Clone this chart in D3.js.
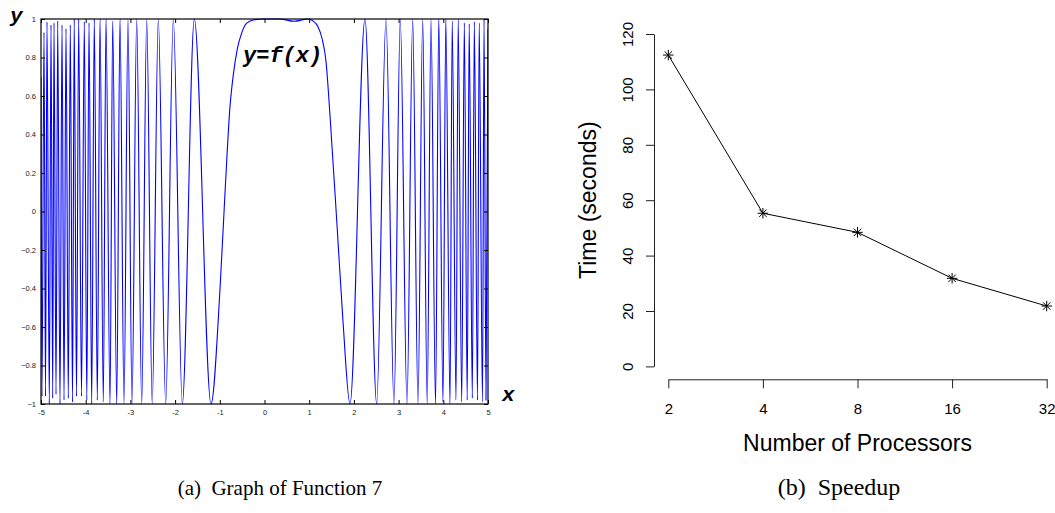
<!DOCTYPE html>
<html>
<head>
<meta charset="utf-8">
<script src="https://cdn.jsdelivr.net/npm/d3@7"></script>
<style>
  html, body { margin: 0; padding: 0; background: #fff; }
  svg { display: block; }
</style>
</head>
<body>
<svg id="chart" width="1055" height="513"></svg>
<script>
const curveX = [
  -5.000, -4.978, -4.933, -4.899, -4.866, -4.814, -4.776, -4.738, -4.709, -4.664,
  -4.626, -4.575, -4.530, -4.485, -4.441, -4.389, -4.345, -4.295, -4.257, -4.206,
  -4.157, -4.094, -4.031, -3.975, -3.926, -3.866, -3.808, -3.740, -3.680, -3.606,
  -3.546, -3.456, -3.396, -3.306, -3.233, -3.143, -3.054, -2.964, -2.859, -2.747,
  -2.635, -2.512, -2.376, -2.210, -2.040, -1.839, -1.570, -1.197,
  -0.996, -0.884, -0.772, -0.698, -0.608, -0.510, -0.398, -0.251, -0.027,
  0.347, 0.660, 0.973, 1.085, 1.197, 1.286, 1.376, 1.465, 1.622, 1.756,
  1.913, 2.248, 2.510, 2.718, 2.897, 3.038, 3.188, 3.315, 3.434, 3.539,
  3.640, 3.725, 3.826, 3.899, 3.993, 4.056, 4.150, 4.199, 4.284, 4.333,
  4.412, 4.470, 4.535, 4.579, 4.649, 4.694, 4.765, 4.803, 4.877, 4.911,
  4.955, 5.000
];
const curveY = [
  0.70, -0.96, 0.93, -0.96, 0.985, -1.00, 0.97, -0.97, 0.98, -0.95,
  0.99, -1.00, 0.97, -0.98, 0.95, -0.97, 0.97, -0.99, 1.00, -0.96,
  1.00, -0.96, 0.985, -0.98, 0.98, -1.00, 1.00, -0.98, 1.00, -0.99,
  1.00, -1.00, 0.99, -1.00, 1.00, -1.00, 1.00, -1.00, 1.00, -1.00,
  1.00, -1.00, 1.00, -1.00, 1.00, -1.00, 1.00, -1.00,
  -0.405, 0.095, 0.545, 0.71, 0.845, 0.928, 0.978, 0.995, 1.00,
  1.00, 0.988, 1.00, 0.99, 0.96, 0.90, 0.78, 0.50, -0.07, -0.57,
  -1.00, 1.00, -1.00, 1.00, -1.00, 1.00, -1.00, 1.00, -1.00, 1.00,
  -1.00, 1.00, -1.00, 1.00, -0.99, 1.00, -1.00, 0.99, -0.98, 1.00,
  -0.99, 0.98, -0.98, 0.975, -0.97, 0.985, -0.98, 0.98, -0.99, 1.00,
  -0.98, 0.95
];
const xTicksA = [-5, -4, -3, -2, -1, 0, 1, 2, 3, 4, 5];
const yTicksA = [-1, -0.8, -0.6, -0.4, -0.2, 0, 0.2, 0.4, 0.6, 0.8, 1];

// ---------- Data: panel (b) ----------
const processors = [2, 4, 8, 16, 32];
const timeSeconds = [112.4, 55.3, 48.4, 31.8, 21.8];
const timeTicks = [0, 20, 40, 60, 80, 100, 120];

const svg = d3.select("#chart");

// ================= Panel (a) =================
const L = { left: 41, right: 488, top: 19, bottom: 404 };
const xA = d3.scaleLinear().domain([-5, 5]).range([L.left, L.right]);
const yA = d3.scaleLinear().domain([-1, 1]).range([L.bottom, L.top]);

const gA = svg.append("g");

gA.append("clipPath").attr("id", "clipA")
  .append("rect").attr("x", L.left).attr("y", L.top - 1)
  .attr("width", L.right - L.left).attr("height", L.bottom - L.top + 2);

const pts = curveX.map((x, i) => [x, curveY[i]]);
const line = d3.line().x(d => xA(d[0])).y(d => yA(d[1])).curve(d3.curveMonotoneX);
gA.append("path").datum(pts)
  .attr("clip-path", "url(#clipA)")
  .attr("d", line)
  .attr("fill", "none").attr("stroke", "#0000ff").attr("stroke-width", 1.1);

const fmtA = d => (d === 0 ? "0" : String(+d.toFixed(1)).replace("-", "\u2212"));

function styleAxisA(g) {
  g.select(".domain").remove();
  g.selectAll("line").attr("stroke", "#000");
  g.selectAll("text").attr("font-family", "Liberation Sans, Arial, sans-serif")
    .attr("font-size", "7.5px").attr("fill", "#222");
}

gA.append("g").attr("transform", `translate(0,${L.bottom})`)
  .call(d3.axisBottom(xA).tickValues(xTicksA).tickSize(-4).tickSizeOuter(0).tickPadding(6).tickFormat(d => String(d)))
  .call(styleAxisA);
gA.append("g").attr("transform", `translate(0,${L.top})`)
  .call(d3.axisTop(xA).tickValues(xTicksA).tickSize(-4).tickSizeOuter(0).tickFormat(""))
  .call(styleAxisA);
gA.append("g").attr("transform", `translate(${L.left},0)`)
  .call(d3.axisLeft(yA).tickValues(yTicksA).tickSize(-4).tickSizeOuter(0).tickPadding(5).tickFormat(fmtA))
  .call(styleAxisA);
gA.append("g").attr("transform", `translate(${L.right},0)`)
  .call(d3.axisRight(yA).tickValues(yTicksA).tickSize(-4).tickSizeOuter(0).tickFormat(""))
  .call(styleAxisA);

gA.append("rect").attr("x", L.left).attr("y", L.top)
  .attr("width", L.right - L.left).attr("height", L.bottom - L.top)
  .attr("fill", "none").attr("stroke", "#000").attr("stroke-width", 1.2);

const monoBI = g => g.attr("font-family", "Liberation Mono, Courier New, monospace")
  .attr("font-weight", "bold").attr("font-style", "italic").attr("fill", "#000");

gA.append("text").attr("x", 10).attr("y", 22).attr("font-size", "21px").text("y").call(monoBI);
gA.append("text").attr("x", 502).attr("y", 401).attr("font-size", "21px").text("x").call(monoBI);
gA.append("text").attr("x", 243).attr("y", 62).attr("font-size", "22px").text("y=f(x)").call(monoBI);

// ================= Panel (b) =================
const R = { left: 654, x0: 668.3, x1: 1046.7, yTop: 34, yBottom: 366.4, axisY: 379.3 };
const xB = d3.scaleLog().base(2).domain([2, 32]).range([R.x0, R.x1]);
const yB = d3.scaleLinear().domain([0, 120]).range([R.yBottom, R.yTop]);

const gB = svg.append("g");
const sans = "Liberation Sans, Arial, Helvetica, sans-serif";

const yAxisB = gB.append("g").attr("transform", `translate(${R.left},0)`)
  .call(d3.axisLeft(yB).tickValues(timeTicks).tickSize(8).tickSizeOuter(0).tickFormat(d3.format("d")));
yAxisB.selectAll("text")
  .attr("font-family", sans).attr("font-size", "15px").attr("fill", "#000")
  .attr("text-anchor", "middle").attr("dy", 0)
  .attr("transform", "rotate(-90)").attr("x", 0).attr("y", -21);

const xAxisB = gB.append("g").attr("transform", `translate(0,${R.axisY})`)
  .call(d3.axisBottom(xB).tickValues(processors).tickSize(9).tickSizeOuter(0).tickPadding(15).tickFormat(d3.format("d")));
xAxisB.selectAll("text").attr("font-family", sans).attr("font-size", "15px").attr("fill", "#000");

[yAxisB, xAxisB].forEach(a => {
  a.selectAll("line").attr("stroke", "#222");
  a.select(".domain").attr("stroke", "#222");
});

const lineB = d3.line().x((d, i) => xB(processors[i])).y(d => yB(d));
gB.append("path").datum(timeSeconds).attr("d", lineB)
  .attr("fill", "none").attr("stroke", "#000").attr("stroke-width", 1);

const starSymbol = {
  draw(ctx, size) {
    const r = Math.sqrt(size) / 2, q = r * Math.SQRT1_2;
    ctx.moveTo(-r, 0); ctx.lineTo(r, 0);
    ctx.moveTo(0, -r); ctx.lineTo(0, r);
    ctx.moveTo(-q, -q); ctx.lineTo(q, q);
    ctx.moveTo(-q, q); ctx.lineTo(q, -q);
  }
};
gB.selectAll("path.star").data(timeSeconds).join("path").attr("class", "star")
  .attr("transform", (d, i) => `translate(${xB(processors[i])},${yB(d)})`)
  .attr("d", d3.symbol().type(starSymbol).size(110))
  .attr("fill", "none").attr("stroke", "#000").attr("stroke-width", 1);

gB.append("text").attr("transform", `translate(596,${(R.yTop + R.yBottom) / 2}) rotate(-90)`)
  .attr("text-anchor", "middle").attr("font-family", sans).attr("font-size", "23px").attr("fill", "#000")
  .text("Time (seconds)");
gB.append("text").attr("x", xB(8)).attr("y", 451)
  .attr("text-anchor", "middle").attr("font-family", sans).attr("font-size", "23px").attr("fill", "#000")
  .text("Number of Processors");

// ================= Captions =================
const serif = "Liberation Serif, Times New Roman, serif";
svg.append("text").attr("x", 280).attr("y", 495).attr("text-anchor", "middle")
  .attr("font-family", serif).attr("font-size", "21px").attr("fill", "#000")
  .attr("xml:space", "preserve").text("(a)  Graph of Function 7");
svg.append("text").attr("x", 839).attr("y", 495).attr("text-anchor", "middle")
  .attr("font-family", serif).attr("font-size", "24px").attr("fill", "#000")
  .attr("xml:space", "preserve").text("(b)  Speedup");
</script>
</body>
</html>
